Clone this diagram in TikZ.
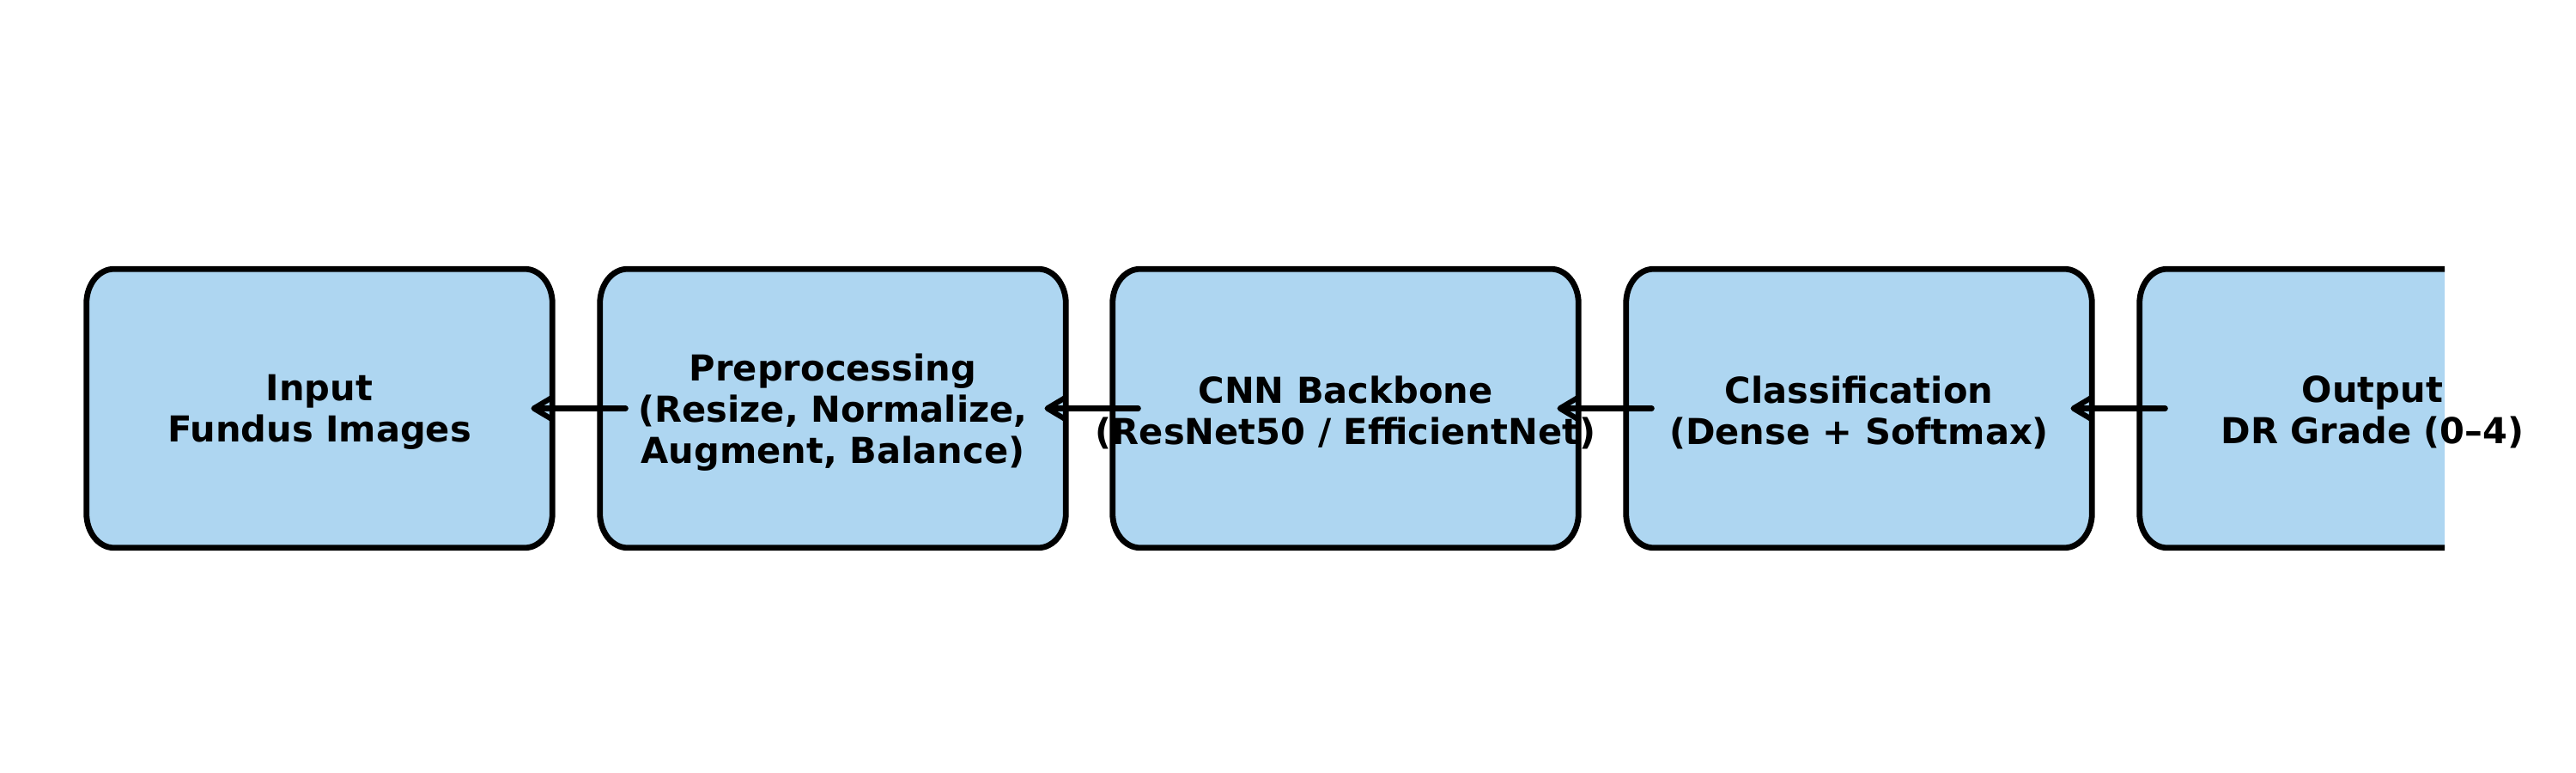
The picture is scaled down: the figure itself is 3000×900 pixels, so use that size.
\documentclass[tikz,border=0pt]{standalone}
\usepackage{fontspec}
\setmainfont{DejaVu Sans}
\usetikzlibrary{arrows.meta,backgrounds}
\definecolor{boxfill}{HTML}{AED6F1}
\tikzset{
  boxnode/.style={rectangle, inner sep=0pt, minimum width=135.25pt, minimum height=80.75pt},
  label/.style={inner sep=0pt, align=center, font=\fontsize{10.4}{12}\selectfont\bfseries},
  boxline/.style={draw=black, fill=boxfill, line width=1.7pt},
  flow/.style={draw=black, line width=1.55pt, line cap=round,
    -{Straight Barb[length=5.2pt,width=6.2pt,round]}}
}
\newcommand{\roundbox}[1]{%
  \path[boxline] ([xshift=8pt]#1.south west) -- ([xshift=-8pt]#1.south east)
    arc[start angle=-90,end angle=0,x radius=8pt,y radius=10pt]
    -- ([yshift=-10pt]#1.north east)
    arc[start angle=0,end angle=90,x radius=8pt,y radius=10pt]
    -- ([xshift=8pt]#1.north west)
    arc[start angle=90,end angle=180,x radius=8pt,y radius=10pt]
    -- ([yshift=10pt]#1.south west)
    arc[start angle=180,end angle=270,x radius=8pt,y radius=10pt]
    -- cycle;}
\begin{document}
\begin{tikzpicture}[x=0.25pt,y=0.25pt]
\useasboundingbox (0,0) rectangle (3000,900);
\node[boxnode] (b1) at (372,424.5) {};
\node[boxnode] (b2) at (970,424.5) {};
\node[boxnode] (b3) at (1567,424.5) {};
\node[boxnode] (b4) at (2165,424.5) {};
\node[boxnode] (b5) at (2763,424.5) {};
\begin{pgfonlayer}{background}
  \roundbox{b1}
  \roundbox{b2}
  \roundbox{b3}
  \roundbox{b4}
  \begin{scope}
    \clip (0,0) rectangle (2847,900);
    \roundbox{b5}
  \end{scope}
\end{pgfonlayer}
\node[label] (t1) at ([yshift=-1.2pt]b1.center) {Input\\Fundus Images};
\node[label] (t2) at ([yshift=-1.2pt]b2.center) {Preprocessing\\(Resize, Normalize,\\Augment, Balance)};
\node[label] (t3) at ([yshift=-1.2pt]b3.center) {CNN Backbone\\(ResNet50 / EfficientNet)};
\node[label] (t4) at ([yshift=-1.2pt]b4.center) {Classification\\(Dense + Softmax)};
\node[label] (t5) at ([yshift=-1.2pt]b5.center) {Output\\DR Grade (0--4)};
\draw[flow] ([xshift=7.5pt]b2.west) -- ([xshift=-6.2pt]b1.east);
\draw[flow] ([xshift=7.5pt]b3.west) -- ([xshift=-6.2pt]b2.east);
\draw[flow] ([xshift=7.5pt]b4.west) -- ([xshift=-6.2pt]b3.east);
\draw[flow] ([xshift=7.5pt]b5.west) -- ([xshift=-6.2pt]b4.east);
\end{tikzpicture}
\end{document}
